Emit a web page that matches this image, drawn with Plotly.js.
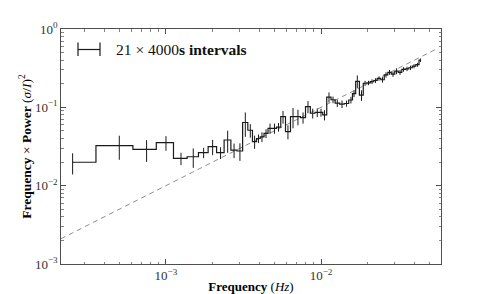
<!DOCTYPE html>
<html>
<head>
<meta charset="utf-8">
<script src="https://cdn.plot.ly/plotly-3.0.1.min.js"></script>
<style>
html,body{margin:0;padding:0;background:#fff;}
#chart{width:491px;height:294px;}
</style>
</head>
<body>
<div id="chart"></div>
<script>
// Fourier-frequency / log-binned power spectrum
var freq = [0.00025,0.0005,0.00075,0.001,0.00125,0.0015,0.00175,0.002,0.00225,0.0025,0.00275,0.003,0.00325,0.0035,
  0.00373,0.00395,0.00416,0.00442,0.00469,0.00501,0.00532,0.00569,0.00612,0.0066,0.0071,0.00766,0.00824,0.00884,0.00946,0.0100,0.01053,
  0.01126,0.01195,0.01274,0.01366,0.0146,0.0156,0.01633,0.01715,0.01825,0.01923,0.02025,0.02133,0.02246,0.02366,0.02493,0.02626,0.02766,0.02914,0.0307,0.03234,0.03406,0.03588,0.0378,0.03981,0.04194,0.04385];
var power = [0.0199,0.0324,0.0291,0.0354,0.0223,0.0234,0.0264,0.0315,0.0264,0.0383,0.0285,0.0277,0.064,0.051,
  0.0365,0.040,0.042,0.0465,0.054,0.054,0.056,0.076,0.049,0.076,0.076,0.074,0.102,0.084,0.086,0.086,0.080,
  0.135,0.125,0.113,0.110,0.112,0.124,0.150,0.215,0.143,0.203,0.205,0.213,0.220,0.234,0.225,0.260,0.280,0.265,0.290,0.280,0.305,0.310,0.320,0.335,0.350,0.400];
var powerErr = [0.0060,0.0110,0.0090,0.0075,0.0040,0.0065,0.0040,0.0070,0.0045,0.0120,0.0060,0.0070,0.0220,0.0100,
  0.007,0.005,0.006,0.006,0.008,0.008,0.007,0.014,0.010,0.022,0.017,0.012,0.018,0.012,0.011,0.010,0.012,
  0.020,0.012,0.012,0.012,0.010,0.012,0.015,0.040,0.022,0.015,0.013,0.015,0.015,0.015,0.018,0.020,0.020,0.020,0.025,0.020,0.020,0.020,0.020,0.020,0.020,0.020];
// dashed model line (power proportional to frequency)
var modelFreq = [0.00021, 0.055];
var modelPower = [0.0021, 0.55];
// tick labels
var xTickVals = [0.001, 0.01];
var xTickText = ['10<sup>−3</sup>', '10<sup>−2</sup>'];
var yTickVals = [0.001, 0.01, 0.1, 1];
var yTickText = ['10<sup>−3</sup>', '10<sup>−2</sup>', '10<sup>−1</sup>', '10<sup>0</sup>'];
var xMinorTicks = [0.0003,0.0004,0.0005,0.0006,0.0007,0.0008,0.0009,0.002,0.003,0.004,0.005,0.006,0.007,0.008,0.009,0.02,0.03,0.04,0.05];
var yMinorTicks = [0.002,0.003,0.004,0.005,0.006,0.007,0.008,0.009,0.02,0.03,0.04,0.05,0.06,0.07,0.08,0.09,0.2,0.3,0.4,0.5,0.6,0.7,0.8,0.9];
var legendLabel = '21 × 4000<b>s intervals</b>';

var serif = 'Liberation Serif, DejaVu Serif, serif';

var traces = [
  {
    x: modelFreq, y: modelPower, type: 'scatter', mode: 'lines',
    line: {color: '#808080', width: 0.9, dash: '5px,4px'},
    hoverinfo: 'skip', showlegend: false
  },
  {
    x: freq, y: power, type: 'scatter', mode: 'lines',
    line: {color: '#1a1a1a', width: 1.2, shape: 'hvh'},
    error_y: {type: 'data', array: powerErr, visible: true, color: '#1a1a1a', thickness: 1, width: 0},
    showlegend: false
  }
];

var L = 61, R = 50, T = 29, B = 30, W = 491, H = 294;
var pw = W - L - R, ph = H - T - B;
function px(x){ return (x - L) / pw; }
function py(y){ return (H - B - y) / ph; }

var axisCommon = {
  type: 'log', showline: true, linecolor: '#222', linewidth: 0.8, mirror: 'allticks',
  ticks: 'inside', ticklen: 5, tickwidth: 0.8, tickcolor: '#222',
  tickmode: 'array',
  showgrid: false, zeroline: false,
  tickfont: {family: serif, size: 13, color: '#333'}
};

var layout = {
  width: W, height: H,
  margin: {l: L, r: R, t: T, b: B},
  paper_bgcolor: '#fff', plot_bgcolor: '#fff',
  showlegend: false,
  xaxis: Object.assign({}, axisCommon, {
    range: [-3.677, -1.226], tickvals: xTickVals, ticktext: xTickText,
    minor: {tickmode: 'array', tickvals: xMinorTicks, ticks: 'inside', ticklen: 2.5, tickwidth: 0.6, tickcolor: '#333', showgrid: false},
    title: {text: '<b>Frequency</b> (<i>Hz</i>)', font: {family: serif, size: 13, color: '#000'}, standoff: 2}
  }),
  yaxis: Object.assign({}, axisCommon, {
    range: [-3, 0], tickvals: yTickVals, ticktext: yTickText,
    minor: {tickmode: 'array', tickvals: yMinorTicks, ticks: 'inside', ticklen: 2.5, tickwidth: 0.6, tickcolor: '#333', showgrid: false},
    title: {text: '<b>Frequency</b> × <b>Power</b> (<i>σ</i>/<i>I</i>)<sup>2</sup>', font: {family: serif, size: 13.5, color: '#000'}, standoff: 0}
  }),
  shapes: [
    {type: 'line', xref: 'paper', yref: 'paper', x0: px(78), x1: px(100), y0: py(49.5), y1: py(49.5), line: {color: '#1a1a1a', width: 1.2}},
    {type: 'line', xref: 'paper', yref: 'paper', x0: px(78), x1: px(78), y0: py(42.5), y1: py(56), line: {color: '#1a1a1a', width: 1.2}},
    {type: 'line', xref: 'paper', yref: 'paper', x0: px(100), x1: px(100), y0: py(42.5), y1: py(56), line: {color: '#1a1a1a', width: 1.2}}
  ],
  annotations: [
    {xref: 'paper', yref: 'paper', x: px(114), y: py(49.5), xanchor: 'left', yanchor: 'middle',
     text: legendLabel, showarrow: false, font: {family: serif, size: 15.5, color: '#111'}}
  ]
};

Plotly.newPlot('chart', traces, layout, {staticPlot: true, displayModeBar: false});
</script>
</body>
</html>
